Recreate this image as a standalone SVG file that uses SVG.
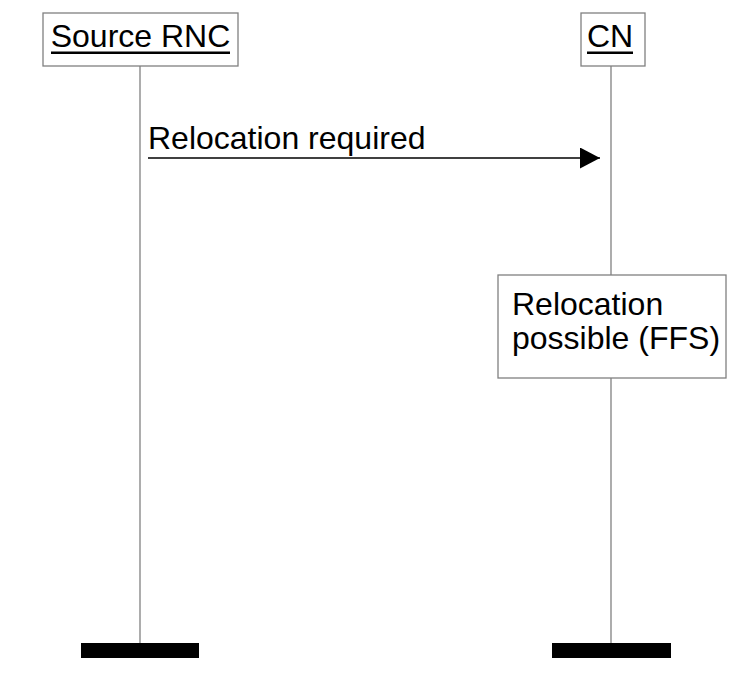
<svg xmlns="http://www.w3.org/2000/svg" width="749" height="674" viewBox="0 0 749 674">
<style>
.box{fill:#fff;stroke:#808080;stroke-width:1.3}
.life{stroke:#808080;stroke-width:1.3}
.t{font-family:"Liberation Sans",Arial,sans-serif;font-size:32px;fill:#000}
.ul{stroke:#000;stroke-width:2.5}
.bar{fill:#000}
</style>
<defs>
<marker id="ah" markerWidth="20" markerHeight="21" refX="20" refY="10.5" orient="auto" markerUnits="userSpaceOnUse">
<path d="M0,0 L20,10.5 L0,21 Z" fill="#000"/>
</marker>
</defs>
<g id="lifelines">
<line class="life" x1="140" y1="66" x2="140" y2="643"/>
<line class="life" x1="611" y1="66" x2="611" y2="643"/>
</g>
<g id="source-rnc">
<rect class="box" x="43" y="13" width="195" height="53"/>
<text class="t" x="140.5" y="47" text-anchor="middle">Source RNC</text>
<line class="ul" x1="51" y1="52.7" x2="230" y2="52.7"/>
<rect class="bar" x="81" y="643" width="118" height="15"/>
</g>
<g id="cn">
<rect class="box" x="581" y="13" width="64" height="53"/>
<text class="t" x="610" y="47" text-anchor="middle">CN</text>
<line class="ul" x1="587" y1="52.7" x2="633" y2="52.7"/>
<rect class="bar" x="552" y="643" width="119" height="15"/>
</g>
<g id="action-relocation-possible">
<rect class="box" x="498" y="275" width="228" height="103"/>
<text class="t" x="512" y="315">Relocation</text>
<text class="t" x="512" y="349">possible (FFS)</text>
</g>
<g id="connectors">
<line x1="148" y1="158" x2="600" y2="158" stroke="#000" stroke-width="1.3" marker-end="url(#ah)"/>
<text class="t" x="148" y="149">Relocation required</text>
</g>
</svg>
